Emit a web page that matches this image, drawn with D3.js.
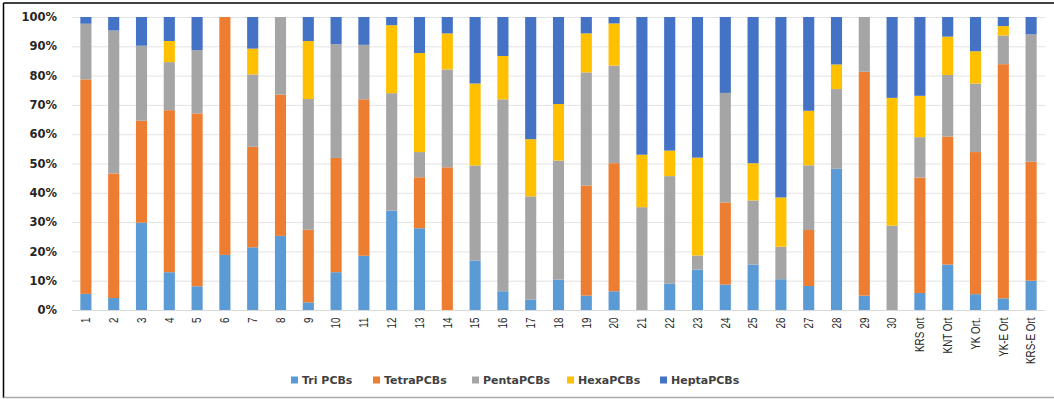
<!DOCTYPE html>
<html>
<head>
<meta charset="utf-8">
<script src="https://cdn.jsdelivr.net/npm/d3@7"></script>
<style>
  html, body { margin: 0; padding: 0; background: #fff; }
  svg { display: block; }
</style>
</head>
<body>
<svg id="chart" width="1054" height="399"></svg>
<script>
// Sampling sites along the x axis
const categories = ["1","2","3","4","5","6","7","8","9","10","11","12","13","14","15","16","17","18","19","20",
  "21","22","23","24","25","26","27","28","29","30","KRS ort","KNT Ort","YK Ort.","YK-E Ort","KRS-E Ort"];

// Share (%) of each PCB homologue group per site
const triPCBs   = [5.5, 4.1, 29.8, 12.9, 8.1, 18.8, 21.4, 25.3, 2.6, 12.9, 18.5, 33.9, 27.9, 0, 16.9, 6.4, 3.6, 10.4, 4.9, 6.4,
  0, 9.0, 13.8, 8.7, 15.5, 10.5, 8.2, 48.2, 4.9, 0, 5.8, 15.5, 5.4, 4.0, 10.0];
const tetraPCBs = [73.2, 42.5, 34.8, 55.3, 59.0, 81.2, 34.3, 48.2, 24.8, 39.0, 53.4, 0, 17.4, 48.7, 0, 0, 0, 0, 37.6, 43.7,
  0, 0, 0, 28.0, 0, 0, 19.1, 0, 76.4, 0, 39.4, 43.7, 48.5, 79.9, 40.6];
const pentaPCBs = [19.0, 48.8, 25.6, 16.4, 21.6, 0, 24.7, 26.5, 44.6, 38.8, 18.6, 40.1, 8.6, 33.4, 32.4, 65.5, 35.2, 40.6, 38.6, 33.3,
  35.1, 36.7, 4.8, 37.4, 21.9, 11.1, 22.1, 27.2, 18.7, 28.8, 13.8, 21.0, 23.4, 9.8, 43.5];
const hexaPCBs  = [0, 0, 0, 7.2, 0, 0, 8.8, 0, 19.8, 0, 0, 23.2, 33.8, 12.3, 28.0, 14.8, 19.5, 19.3, 13.3, 14.4,
  17.9, 8.7, 33.4, 0, 12.7, 16.8, 18.6, 8.4, 0, 43.6, 14.1, 13.1, 11.0, 3.2, 0];
const heptaPCBs = [2.3, 4.6, 9.8, 8.2, 11.3, 0, 10.8, 0, 8.2, 9.3, 9.5, 2.8, 12.3, 5.6, 22.7, 13.3, 41.7, 29.7, 5.6, 2.2,
  47.0, 45.6, 48.0, 25.9, 49.9, 61.6, 32.0, 16.2, 0, 27.6, 26.9, 6.7, 11.7, 3.1, 5.9];

const seriesNames  = ["Tri PCBs", "TetraPCBs", "PentaPCBs", "HexaPCBs", "HeptaPCBs"];
const seriesColors = ["#5B9BD5", "#ED7D31", "#A5A5A5", "#FFC000", "#4472C4"];
const yTicks = [0, 0.1, 0.2, 0.3, 0.4, 0.5, 0.6, 0.7, 0.8, 0.9, 1.0];

const seriesValues = [triPCBs, tetraPCBs, pentaPCBs, hexaPCBs, heptaPCBs];
const rows = categories.map((c, i) => {
  const r = { site: c };
  seriesNames.forEach((s, k) => { r[s] = seriesValues[k][i]; });
  return r;
});

const svg = d3.select("#chart");
const W = 1054, H = 399;
const margin = { top: 17, right: 9, bottom: 89, left: 72 };
const plotW = W - margin.left - margin.right;
const plotH = H - margin.top - margin.bottom;

// Frame around the chart
svg.append("line").attr("x1", 3.5).attr("x2", W).attr("y1", 3).attr("y2", 3)
  .attr("stroke", "#000").attr("stroke-width", 1.5);
svg.append("line").attr("x1", 3.5).attr("x2", 3.5).attr("y1", 3).attr("y2", 398)
  .attr("stroke", "#000").attr("stroke-width", 1.5);
svg.append("line").attr("x1", 3.5).attr("x2", W).attr("y1", 397.5).attr("y2", 397.5)
  .attr("stroke", "#aaa").attr("stroke-width", 1.5);

const g = svg.append("g").attr("transform", `translate(${margin.left},${margin.top})`);

const x = d3.scaleBand().domain(categories).range([0, plotW]).paddingInner(0.6).paddingOuter(0.3);
const y = d3.scaleLinear().domain([0, 1]).range([plotH, 0]);

// Horizontal gridlines
g.append("g").selectAll("line").data(yTicks).join("line")
  .attr("x1", 0).attr("x2", plotW)
  .attr("y1", d => y(d) + 0.5).attr("y2", d => y(d) + 0.5)
  .attr("stroke", "#e3e3e3").attr("stroke-width", 1);

// Stacked 100% bars
const stack = d3.stack().keys(seriesNames).offset(d3.stackOffsetExpand);
const layers = stack(rows);
const color = d3.scaleOrdinal().domain(seriesNames).range(seriesColors);

g.append("g").selectAll("g").data(layers).join("g")
  .attr("fill", d => color(d.key))
  .selectAll("rect").data(d => d).join("rect")
  .attr("x", d => x(d.data.site))
  .attr("width", x.bandwidth())
  .attr("y", d => y(d[1]))
  .attr("height", d => Math.max(0, y(d[0]) - y(d[1])));

// Y axis labels
const yAxis = d3.axisLeft(y).tickValues(yTicks).tickFormat(d3.format(".0%")).tickSize(0).tickPadding(15);
const yg = g.append("g").call(yAxis);
yg.select(".domain").remove();
yg.selectAll("text")
  .attr("font-family", "'DejaVu Sans', sans-serif")
  .attr("font-weight", "bold")
  .attr("font-size", "11.5px")
  .attr("fill", "#262626");

// X axis baseline and rotated, slightly condensed labels
g.append("line").attr("x1", 0).attr("x2", plotW).attr("y1", plotH + 0.5).attr("y2", plotH + 0.5)
  .attr("stroke", "#d9d9d9");
const xAxis = d3.axisBottom(x).tickSize(0).tickPadding(0);
const xg = g.append("g").attr("transform", `translate(0,${plotH})`).call(xAxis);
xg.select(".domain").remove();
xg.selectAll("text")
  .attr("font-family", "'Liberation Sans', Arial, sans-serif")
  .attr("font-size", "12px")
  .attr("fill", "#262626")
  .attr("text-anchor", "end")
  .attr("dy", "0.35em")
  .attr("transform", "translate(0,7.5) rotate(-90) scale(0.82,1)")
  .attr("x", 0).attr("y", 0);

// Legend
const legendX = [291, 373, 472, 567, 660];
const legend = svg.append("g").attr("transform", "translate(0,380)");
const items = legend.selectAll("g").data(seriesNames).join("g")
  .attr("transform", (d, i) => `translate(${legendX[i]},0)`);
items.append("rect").attr("x", 0).attr("y", -3.5).attr("width", 7).attr("height", 7)
  .attr("fill", d => color(d));
items.append("text").attr("x", 11).attr("y", 0).attr("dy", "0.35em")
  .attr("font-family", "'DejaVu Sans', sans-serif")
  .attr("font-weight", "bold")
  .attr("font-size", "11px")
  .attr("fill", "#404040")
  .text(d => d);
</script>
</body>
</html>
